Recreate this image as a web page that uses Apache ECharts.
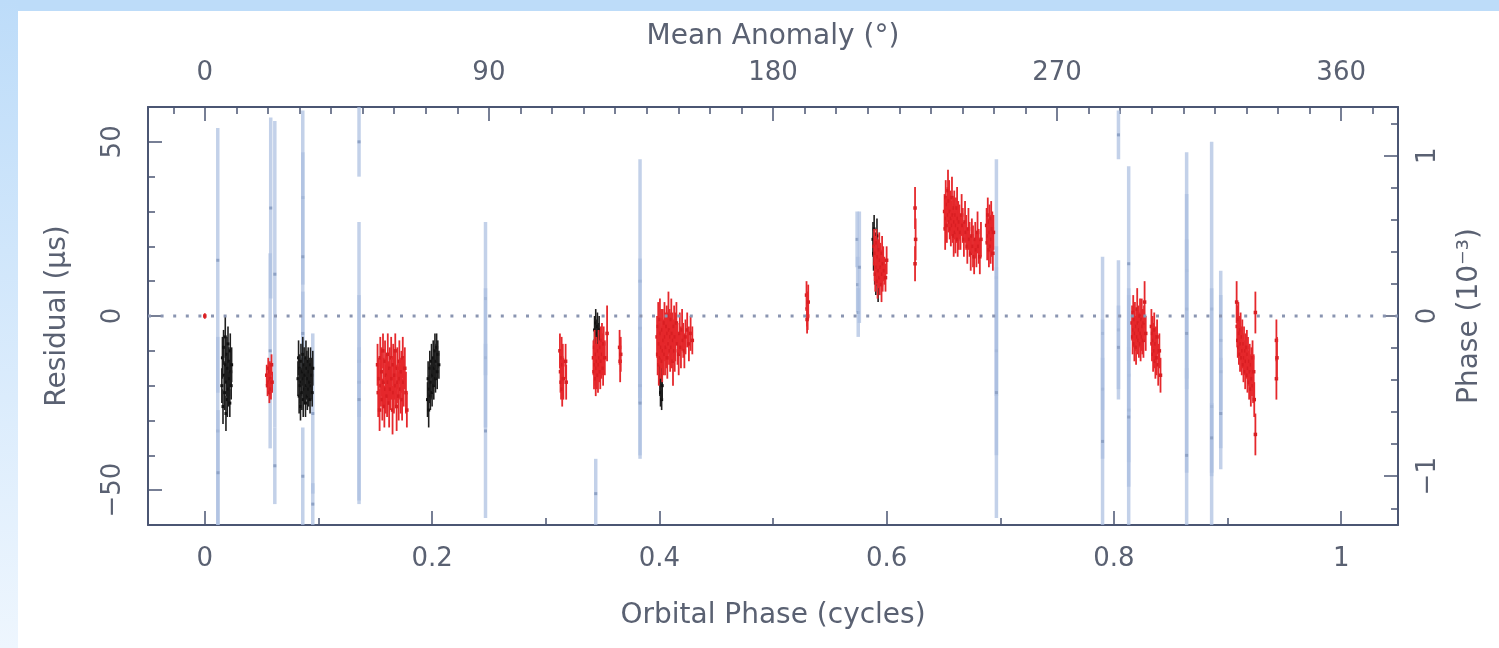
<!DOCTYPE html>
<html>
<head>
<meta charset="utf-8">
<script src="https://cdn.jsdelivr.net/npm/echarts@6/dist/echarts.min.js"></script>
<style>
  html, body { margin:0; padding:0; background:#ffffff; }
  #wrap { position:relative; width:1499px; height:648px; overflow:hidden; background:#ffffff; }
  #topband { position:absolute; left:0; top:0; width:1499px; height:11px; background:#bddcf9; }
  #leftband { position:absolute; left:0; top:0; width:18px; height:648px; background:linear-gradient(to bottom,#bddcf9,#eef6fe); }
  #main { position:absolute; left:0; top:0; width:1499px; height:648px; }
</style>
</head>
<body>
<div id="wrap"><div id="topband"></div><div id="leftband"></div><div id="main"></div></div>
<script>
// ---------------- DATA: [orbital phase, residual (us), error (us)] ----------------
const redOrigin = [[0.000, 0.0, 0.8]];
const red1 = [[0.0545,-17,3],[0.0552,-20,3],[0.0558,-15,3],[0.0563,-19,3],[0.0568,-22,3],[0.0572,-16,3],[0.0577,-18,4],[0.0582,-21,3],[0.0587,-14,3],[0.0592,-19,3]];
const red2 = [[0.1520,-14,6],[0.1526,-22,7],[0.1532,-18,6],[0.1538,-27,6],[0.1544,-12,6],[0.1550,-20,6],[0.1556,-16,7],[0.1562,-24,6],[0.1568,-10,5],[0.1574,-19,7],[0.1580,-26,6],[0.1586,-13,6],[0.1592,-21,7],[0.1598,-17,6],[0.1604,-23,6],[0.1610,-11,6],[0.1616,-19,6],[0.1622,-25,7],[0.1628,-15,6],[0.1634,-21,6],[0.1640,-12,6],[0.1646,-18,6],[0.1652,-27,7],[0.1658,-14,6],[0.1664,-22,6],[0.1670,-17,7],[0.1676,-10,5],[0.1682,-20,6],[0.1688,-26,7],[0.1694,-15,6],[0.1700,-19,6],[0.1706,-23,7],[0.1712,-13,6],[0.1718,-18,6],[0.1724,-21,7],[0.1730,-16,6],[0.1736,-24,6],[0.1742,-12,6],[0.1750,-19,7],[0.1760,-15,6],[0.1770,-22,6],[0.1778,-27,5]];
const red3 = [[0.3125,-10,5],[0.3130,-16,6],[0.3135,-19,5],[0.3140,-12,6],[0.3145,-21,5],[0.3150,-14,6],[0.3155,-18,6],[0.3175,-13,5],[0.3180,-19,5]];
const red4 = [[0.3420,-12,5],[0.3425,-16,5],[0.3430,-9,5],[0.3435,-14,6],[0.3440,-18,5],[0.3445,-11,5],[0.3450,-15,6],[0.3455,-13,5],[0.3460,-17,5],[0.3465,-10,6],[0.3470,-14,5],[0.3475,-12,5],[0.3480,-16,5],[0.3485,-9,6],[0.3490,-13,5],[0.3495,-7,5],[0.3500,-11,6],[0.3505,-15,5],[0.3510,-8,5],[0.3520,-12,5],[0.3540,-5,8],[0.3650,-9,5],[0.3655,-13,6],[0.3660,-11,5]];
const red5 = [[0.3980,-6,6],[0.3985,-11,6],[0.3990,-3,7],[0.3995,-14,6],[0.4000,-8,6],[0.4005,-1,6],[0.4010,-12,6],[0.4015,-5,7],[0.4020,-9,6],[0.4025,-13,6],[0.4030,-4,6],[0.4035,-10,7],[0.4040,-7,6],[0.4045,-2,6],[0.4050,-11,6],[0.4055,-6,7],[0.4060,-9,6],[0.4065,-3,6],[0.4070,-12,6],[0.4075,-5,6],[0.4080,0,7],[0.4085,-8,6],[0.4090,-4,6],[0.4095,-10,6],[0.4100,-6,7],[0.4105,-1,6],[0.4110,-9,6],[0.4115,-5,6],[0.4120,-13,7],[0.4125,-7,6],[0.4130,-3,6],[0.4135,-10,6],[0.4140,-6,7],[0.4150,-2,6],[0.4160,-8,6],[0.4170,-11,6],[0.4180,-5,6],[0.4190,-9,6],[0.4200,-4,6],[0.4210,-7,5],[0.4220,-10,5],[0.4230,-6,5],[0.4245,-4,5],[0.4260,-8,5],[0.4275,-5,5],[0.4290,-7,4]];
const red6 = [[0.5295,6,4],[0.5300,2,5],[0.5305,0,4],[0.5310,4,5],[0.5300,-1,4]];
const red7 = [[0.5890,20,5],[0.5895,15,5],[0.5900,12,5],[0.5905,18,5],[0.5910,21,4],[0.5915,14,5],[0.5920,10,5],[0.5925,17,5],[0.5930,13,5],[0.5935,19,5],[0.5940,11,5],[0.5945,16,5],[0.5950,14,5],[0.5955,9,5],[0.5960,18,5],[0.5965,12,5],[0.5970,15,5],[0.5980,13,4],[0.5990,11,4],[0.6000,16,4]];
const red8 = [[0.6250,31,6],[0.6255,22,6],[0.6250,15,5]];
const red9 = [[0.6510,30,5],[0.6515,25,6],[0.6520,34,5],[0.6525,28,6],[0.6530,26,5],[0.6535,32,5],[0.6540,36,6],[0.6545,29,5],[0.6550,33,6],[0.6555,27,5],[0.6560,30,6],[0.6565,25,5],[0.6570,28,5],[0.6575,34,6],[0.6580,26,5],[0.6585,29,5],[0.6590,23,6],[0.6595,31,5],[0.6600,27,5],[0.6605,24,6],[0.6610,29,5],[0.6615,26,5],[0.6620,31,6],[0.6625,22,5],[0.6630,28,5],[0.6635,25,6],[0.6640,27,5],[0.6650,24,5],[0.6660,29,6],[0.6670,26,5],[0.6680,22,5],[0.6690,27,6],[0.6700,24,5],[0.6710,20,5],[0.6720,25,6],[0.6730,22,5],[0.6740,18,5],[0.6750,23,5],[0.6760,20,6],[0.6770,17,5],[0.6780,22,5],[0.6790,19,5],[0.6800,24,6],[0.6810,20,5],[0.6820,17,5],[0.6830,22,5]];
const red10 = [[0.6880,26,5],[0.6885,21,5],[0.6890,29,5],[0.6895,23,5],[0.6900,19,5],[0.6905,27,5],[0.6910,24,5],[0.6915,20,5],[0.6920,28,5],[0.6925,22,5],[0.6930,25,5],[0.6935,18,5],[0.6940,24,5]];
const red11 = [[0.8160,-2,5],[0.8165,-6,5],[0.8170,1,5],[0.8175,-4,5],[0.8180,-8,5],[0.8185,-1,5],[0.8190,-5,5],[0.8195,-9,5],[0.8200,-3,5],[0.8205,2,6],[0.8210,-6,5],[0.8215,-2,5],[0.8220,-7,5],[0.8225,-4,5],[0.8230,0,5],[0.8235,-8,5],[0.8240,-5,5],[0.8245,-1,6],[0.8250,-6,5],[0.8255,-3,5],[0.8260,-7,5],[0.8265,-2,5],[0.8270,4,6],[0.8280,-5,5],[0.8330,-3,5],[0.8335,-8,5],[0.8340,-5,5],[0.8345,-11,5],[0.8350,-7,5],[0.8355,-4,5],[0.8360,-10,5],[0.8365,-13,5],[0.8370,-8,5],[0.8375,-12,5],[0.8380,-6,5],[0.8390,-14,6],[0.8400,-10,5],[0.8410,-17,5]];
const red12 = [[0.9080,4,6],[0.9085,-3,6],[0.9090,-7,5],[0.9095,-1,5],[0.9100,-9,5],[0.9105,-5,5],[0.9110,-11,5],[0.9115,-4,5],[0.9120,-8,5],[0.9125,-12,5],[0.9130,-6,5],[0.9135,-10,5],[0.9140,-14,5],[0.9145,-8,5],[0.9150,-12,5],[0.9155,-16,5],[0.9160,-10,5],[0.9165,-13,5],[0.9170,-9,5],[0.9175,-17,5],[0.9180,-11,5],[0.9185,-15,5],[0.9190,-19,5],[0.9195,-13,5],[0.9200,-16,5],[0.9205,-21,5],[0.9210,-14,5],[0.9215,-18,5],[0.9220,-12,5],[0.9225,-20,5],[0.9230,-16,5],[0.9235,-24,5],[0.9245,1,6],[0.9245,-34,6],[0.9430,-7,6],[0.9430,-18,6],[0.9435,-12,6]];

const black1 = [[0.0150,-20,5],[0.0155,-12,6],[0.0160,-26,5],[0.0165,-9,5],[0.0170,-17,4],[0.0175,-22,5],[0.0180,-6,6],[0.0182,-14,5],[0.0186,-28,5],[0.0190,-19,4],[0.0194,-11,5],[0.0198,-24,5],[0.0200,-15,4],[0.0204,-8,5],[0.0208,-21,5],[0.0212,-13,4],[0.0216,-18,5],[0.0220,-25,4],[0.0224,-10,5],[0.0228,-16,4],[0.0232,-20,4],[0.0236,-14,5]];
const black2 = [[0.0820,-18,5],[0.0825,-12,5],[0.0830,-23,5],[0.0834,-15,4],[0.0838,-20,5],[0.0842,-26,4],[0.0846,-13,5],[0.0850,-19,4],[0.0854,-22,5],[0.0858,-16,4],[0.0862,-11,5],[0.0866,-24,5],[0.0870,-18,4],[0.0874,-14,5],[0.0878,-21,4],[0.0882,-17,5],[0.0886,-25,4],[0.0890,-12,5],[0.0894,-20,4],[0.0898,-15,5],[0.0902,-23,4],[0.0906,-18,5],[0.0910,-13,4],[0.0914,-21,5],[0.0918,-16,4],[0.0922,-19,5],[0.0926,-24,4],[0.0930,-14,5],[0.0935,-20,4],[0.0940,-17,5],[0.0945,-22,4],[0.0950,-15,5]];
const black3 = [[0.1960,-24,5],[0.1965,-18,5],[0.1970,-27,5],[0.1975,-21,4],[0.1980,-15,5],[0.1985,-23,4],[0.1990,-19,5],[0.1995,-13,5],[0.2000,-22,4],[0.2005,-17,5],[0.2010,-12,5],[0.2015,-20,4],[0.2020,-15,5],[0.2025,-10,5],[0.2030,-18,4],[0.2035,-13,5],[0.2040,-9,4],[0.2045,-16,5],[0.2050,-11,4],[0.2060,-14,4]];
const black4 = [[0.3430,-4,4],[0.3435,-7,4],[0.3440,-2,4],[0.3445,-9,4],[0.3450,-5,4],[0.3455,-3,4],[0.3460,-8,4],[0.3465,-6,4],[0.3470,-4,4],[0.3475,-10,4]];
const black5 = [[0.4000,-15,4],[0.4005,-19,4],[0.4010,-22,4],[0.4015,-17,4],[0.4020,-24,3],[0.4025,-20,4],[0.4010,-8,4],[0.4020,-12,4]];
const black6 = [[0.5880,22,5],[0.5885,18,5],[0.5890,25,4],[0.5895,14,5],[0.5900,20,4],[0.5905,11,5],[0.5910,17,4],[0.5915,23,5],[0.5920,13,4],[0.5925,9,5],[0.5930,15,4]];

const greyBars = [[0.0114,16,38],[0.0114,-33,27],[0.0116,-45,18],
  [0.0580,31,26],[0.0575,-10,28],[0.0616,12,44],[0.0616,-43,11],
  [0.0862,34,25],[0.0862,17,30],[0.0862,-5,12],[0.0862,-46,14],
  [0.0950,-54,6],[0.0950,-28,23],
  [0.1357,50,10],[0.1357,-13,40],[0.1357,-19,10],[0.1357,-24,30],
  [0.2470,5,22],[0.2470,-12,20],[0.2470,-33,25],
  [0.3440,-51,10],
  [0.3830,10,35],[0.3830,-3.5,20],[0.3830,-20,20],[0.3830,-25,16],
  [0.5740,22,8],[0.5745,9,8],[0.5750,1,7],[0.5760,14,16],
  [0.6966,11,34],[0.6966,-10,30],[0.6966,-22,36],
  [0.7900,-5,22],[0.7900,-21,20],[0.7900,-36,24],
  [0.8040,52,7],[0.8040,-4,20],[0.8040,-9,12],
  [0.8130,15,28],[0.8130,-17,25],[0.8130,-27,33],[0.8130,-29,20],
  [0.8640,13,34],[0.8640,2,20],[0.8640,-5,40],[0.8640,-40,25],
  [0.8860,2,48],[0.8860,-26,34],[0.8860,-35,10],
  [0.8940,-7,20],[0.8940,-16,22],[0.8940,-28,16]];

const bottomTicks = [0, 0.2, 0.4, 0.6, 0.8, 1];
const bottomMinor = [0.1, 0.3, 0.5, 0.7, 0.9];
const topTicks = [0, 90, 180, 270, 360];
const topMinor = [-10,10,20,30,40,50,60,70,80,100,110,120,130,140,150,160,170,190,200,210,220,230,240,250,260,280,290,300,310,320,330,340,350,370];
const leftTicks = [-50, 0, 50];
const leftMinor = [-40,-30,-20,-10,10,20,30,40];
const rightTicks = [-1, 0, 1];
const rightMinor = [-1.2,-0.8,-0.6,-0.4,-0.2,0.2,0.4,0.6,0.8,1.2];

// ---------------- CHART ----------------
const YMIN = -60, YMAX = 60;
const US_PER_MPHASE = 46; // 1e-3 phase = 46 us
const axisColor = '#4b5673';
const textColor = '#5a6172';
const font = 'DejaVu Sans';

function errRender(color, lw, dotColor, dot) {
  return function (params, api) {
    const x = api.value(0), y = api.value(1), e = api.value(2);
    const hi = Math.min(y + e, YMAX), lo = Math.max(y - e, YMIN);
    const a = api.coord([x, hi]), b = api.coord([x, lo]), p = api.coord([x, y]);
    const children = [{ type: 'line', shape: { x1: a[0], y1: a[1], x2: b[0], y2: b[1] }, style: { stroke: color, lineWidth: lw } }];
    if (y >= YMIN && y <= YMAX) {
      children.push({ type: 'rect', shape: { x: p[0] - dot / 2, y: p[1] - dot / 2, width: dot, height: dot }, style: { fill: dotColor } });
    }
    return { type: 'group', children };
  };
}

function errSeries(data, color, lw, dotColor, dot) {
  return {
    type: 'custom', xAxisIndex: 0, yAxisIndex: 0, silent: true,
    renderItem: errRender(color, lw, dotColor, dot),
    encode: { x: 0, y: 1 }, dimensions: ['x', 'y', 'e'], data
  };
}

const tickLbl = { color: textColor, fontFamily: font, fontSize: 26 };
const nameStyle = { color: textColor, fontFamily: font, fontSize: 28 };
const line = (show) => ({ show, onZero: false, lineStyle: { color: axisColor, width: 2 } });

const chart = echarts.init(document.getElementById('main'), null, { renderer: 'canvas' });
chart.setOption({
  animation: false,
  backgroundColor: 'transparent',
  grid: { left: 148, right: 101, top: 107, bottom: 123 },
  xAxis: [
    { type: 'value', position: 'bottom', min: -0.05, max: 1.05,
      name: 'Orbital Phase (cycles)', nameLocation: 'middle', nameGap: 77, nameTextStyle: nameStyle,
      axisLine: line(true),
      axisTick: { show: true, inside: true, length: 14, customValues: bottomTicks, lineStyle: { color: axisColor, width: 1.5 } },
      axisLabel: Object.assign({ margin: 21, customValues: bottomTicks, formatter: v => (v === 0 || v === 1) ? String(v) : v.toFixed(1) }, tickLbl),
      splitLine: { show: false } },
    { type: 'value', position: 'bottom', min: -0.05, max: 1.05,
      axisLine: line(false),
      axisTick: { show: true, inside: true, length: 7, customValues: bottomMinor, lineStyle: { color: axisColor, width: 1.5 } },
      axisLabel: { show: false }, splitLine: { show: false } },
    { type: 'value', position: 'top', min: -18, max: 378,
      name: 'Mean Anomaly (°)', nameLocation: 'middle', nameGap: 56, nameTextStyle: nameStyle,
      axisLine: line(true),
      axisTick: { show: true, inside: true, length: 14, customValues: topTicks, lineStyle: { color: axisColor, width: 1.5 } },
      axisLabel: Object.assign({ margin: 21, customValues: topTicks }, tickLbl),
      splitLine: { show: false } },
    { type: 'value', position: 'top', min: -18, max: 378,
      axisLine: line(false),
      axisTick: { show: true, inside: true, length: 7, customValues: topMinor, lineStyle: { color: axisColor, width: 1.5 } },
      axisLabel: { show: false }, splitLine: { show: false } }
  ],
  yAxis: [
    { type: 'value', position: 'left', min: YMIN, max: YMAX,
      name: 'Residual (µs)', nameLocation: 'middle', nameGap: 76, nameRotate: 90, nameTextStyle: nameStyle,
      axisLine: line(true),
      axisTick: { show: true, inside: true, length: 14, customValues: leftTicks, lineStyle: { color: axisColor, width: 1.5 } },
      axisLabel: Object.assign({ margin: 22, rotate: 90, customValues: leftTicks, formatter: v => v < 0 ? '\u2212' + Math.abs(v) : String(v) }, tickLbl),
      splitLine: { show: false } },
    { type: 'value', position: 'left', min: YMIN, max: YMAX,
      axisLine: line(false),
      axisTick: { show: true, inside: true, length: 7, customValues: leftMinor, lineStyle: { color: axisColor, width: 1.5 } },
      axisLabel: { show: false }, splitLine: { show: false } },
    { type: 'value', position: 'right', min: YMIN / US_PER_MPHASE, max: YMAX / US_PER_MPHASE,
      name: 'Phase (10\u207B\u00B3)', nameLocation: 'middle', nameGap: 58, nameRotate: 90, nameTextStyle: nameStyle,
      axisLine: line(true),
      axisTick: { show: true, inside: true, length: 14, customValues: rightTicks, lineStyle: { color: axisColor, width: 1.5 } },
      axisLabel: Object.assign({ margin: 17, rotate: 90, customValues: rightTicks, formatter: v => v < 0 ? '\u2212' + Math.abs(v) : String(v) }, tickLbl),
      splitLine: { show: false } },
    { type: 'value', position: 'right', min: YMIN / US_PER_MPHASE, max: YMAX / US_PER_MPHASE,
      axisLine: line(false),
      axisTick: { show: true, inside: true, length: 7, customValues: rightMinor, lineStyle: { color: axisColor, width: 1.5 } },
      axisLabel: { show: false }, splitLine: { show: false } }
  ],
  series: [
    { type: 'line', xAxisIndex: 0, yAxisIndex: 0, silent: true, symbol: 'none',
      data: [[-0.05, 0], [1.05, 0]],
      lineStyle: { color: '#8a95b1', width: 3, type: [3, 9.6] } },
    errSeries(greyBars, 'rgba(172,191,224,0.72)', 3.5, '#8ea2c5', 3),
    errSeries([].concat(black1, black2, black3, black4, black5, black6), '#1e1e1e', 1.6, '#111111', 3),
    errSeries([].concat(redOrigin, red1, red2, red3, red4, red5, red6, red7, red8, red9, red10, red11, red12), '#e5282c', 1.8, '#d81e22', 3.5)
  ]
});
</script>
</body>
</html>
